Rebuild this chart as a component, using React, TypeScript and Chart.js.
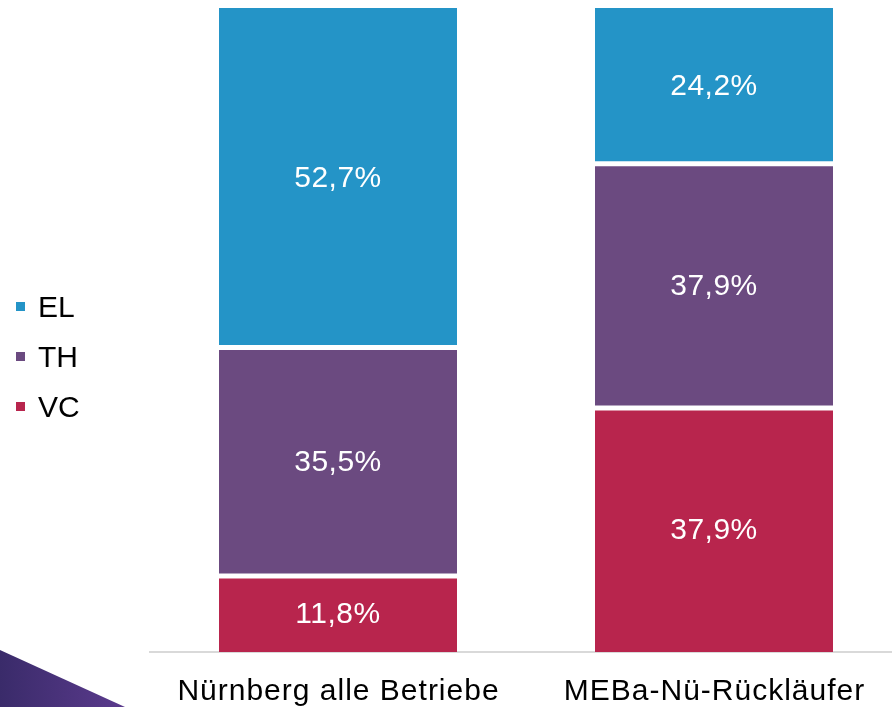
import React, { useEffect, useRef } from "react";
import { Chart, registerables } from "chart.js";

Chart.register(...registerables);

const categories = ["Nürnberg alle Betriebe", "MEBa-Nü-Rückläufer"];
const seriesNames = ["VC", "TH", "EL"];
const vcValues = [11.8, 37.9];
const thValues = [35.5, 37.9];
const elValues = [52.7, 24.2];
const seriesColors = ["#b8254d", "#6b4a80", "#2494c7"];
const legendOrder = ["EL", "TH", "VC"];

const FONT = "'Liberation Sans', Arial, sans-serif";

const decorPlugin = {
  id: "decor",
  beforeDraw(chart: any) {
    const ctx = chart.ctx;
    ctx.save();
    const g = ctx.createLinearGradient(0, 0, 130, 0);
    g.addColorStop(0, "#3a2b6a");
    g.addColorStop(1, "#5c3b8e");
    ctx.fillStyle = g;
    ctx.beginPath();
    ctx.moveTo(0, 650);
    ctx.lineTo(125, 707);
    ctx.lineTo(0, 707);
    ctx.closePath();
    ctx.fill();
    ctx.restore();
  },
};

const labelPlugin = {
  id: "valueLabels",
  afterDatasetsDraw(chart: any) {
    const ctx = chart.ctx;
    ctx.save();
    ctx.font = `30px ${FONT}`;
    ctx.fillStyle = "#ffffff";
    ctx.textAlign = "center";
    ctx.textBaseline = "middle";
    (ctx as any).letterSpacing = "0.5px";
    chart.data.datasets.forEach((ds: any, di: number) => {
      const meta = chart.getDatasetMeta(di);
      meta.data.forEach((bar: any, i: number) => {
        const v = ds.data[i] as number;
        const cy = (bar.y + bar.base) / 2;
        ctx.fillText(v.toFixed(1).replace(".", ",") + "%", bar.x, cy + 1);
      });
    });
    (ctx as any).letterSpacing = "0px";
    // legend
    ctx.textAlign = "left";
    ctx.textBaseline = "alphabetic";
    legendOrder.forEach((name, k) => {
      const di = chart.data.datasets.findIndex((d: any) => d.label === name);
      const ds = chart.data.datasets[di];
      const base = 317 + k * 50;
      ctx.fillStyle = ds.backgroundColor;
      ctx.fillRect(16, base - 15, 9, 9);
      ctx.fillStyle = "#000000";
      ctx.fillText(name, 38, base);
    });
    // category labels with slight letter spacing
    const xs = chart.scales.x;
    ctx.fillStyle = "#000000";
    ctx.textAlign = "center";
    (ctx as any).letterSpacing = "1px";
    chart.data.labels.forEach((lab: string, i: number) => {
      ctx.fillText(lab, xs.getPixelForTick(i) + 0.5, chart.chartArea.bottom + 48);
    });
    ctx.restore();
  },
};

export default function App() {
  const ref = useRef<HTMLCanvasElement>(null);
  useEffect(() => {
    if (!ref.current) return;
    const values = [vcValues, thValues, elValues];
    const borders = [
      { top: 2.5, bottom: 0, left: 0, right: 0 },
      { top: 2.5, bottom: 2.5, left: 0, right: 0 },
      { top: 0, bottom: 2.5, left: 0, right: 0 },
    ];
    const chart = new Chart(ref.current, {
      type: "bar",
      data: {
        labels: categories,
        datasets: seriesNames.map((name, i) => ({
          label: name,
          data: values[i],
          backgroundColor: seriesColors[i],
          borderColor: "#ffffff",
          borderWidth: borders[i],
          borderSkipped: false,
          categoryPercentage: 1,
          barPercentage: 0.633,
        })),
      },
      options: {
        responsive: false,
        animation: false,
        devicePixelRatio: 1,
        layout: { padding: { left: 150, top: 8, right: 8, bottom: 0 } },
        plugins: { legend: { display: false }, tooltip: { enabled: false } },
        scales: {
          x: {
            stacked: true,
            grid: { display: false, drawTicks: false, tickLength: 0 },
            border: { display: true, color: "#d9d9d9", width: 2 },
            ticks: { display: false },
            afterFit: (s: any) => {
              s.height = 55;
            },
          },
          y: {
            stacked: true,
            display: false,
            min: 0,
            max: 100,
          },
        },
      },
      plugins: [decorPlugin, labelPlugin],
    } as any);
    return () => chart.destroy();
  }, []);
  return (
    <div
      style={{
        position: "fixed",
        left: 0,
        top: 0,
        width: 892,
        height: 707,
        overflow: "hidden",
        background: "#ffffff",
      }}
    >
      <canvas ref={ref} width={910} height={707} style={{ display: "block" }} />
    </div>
  );
}
